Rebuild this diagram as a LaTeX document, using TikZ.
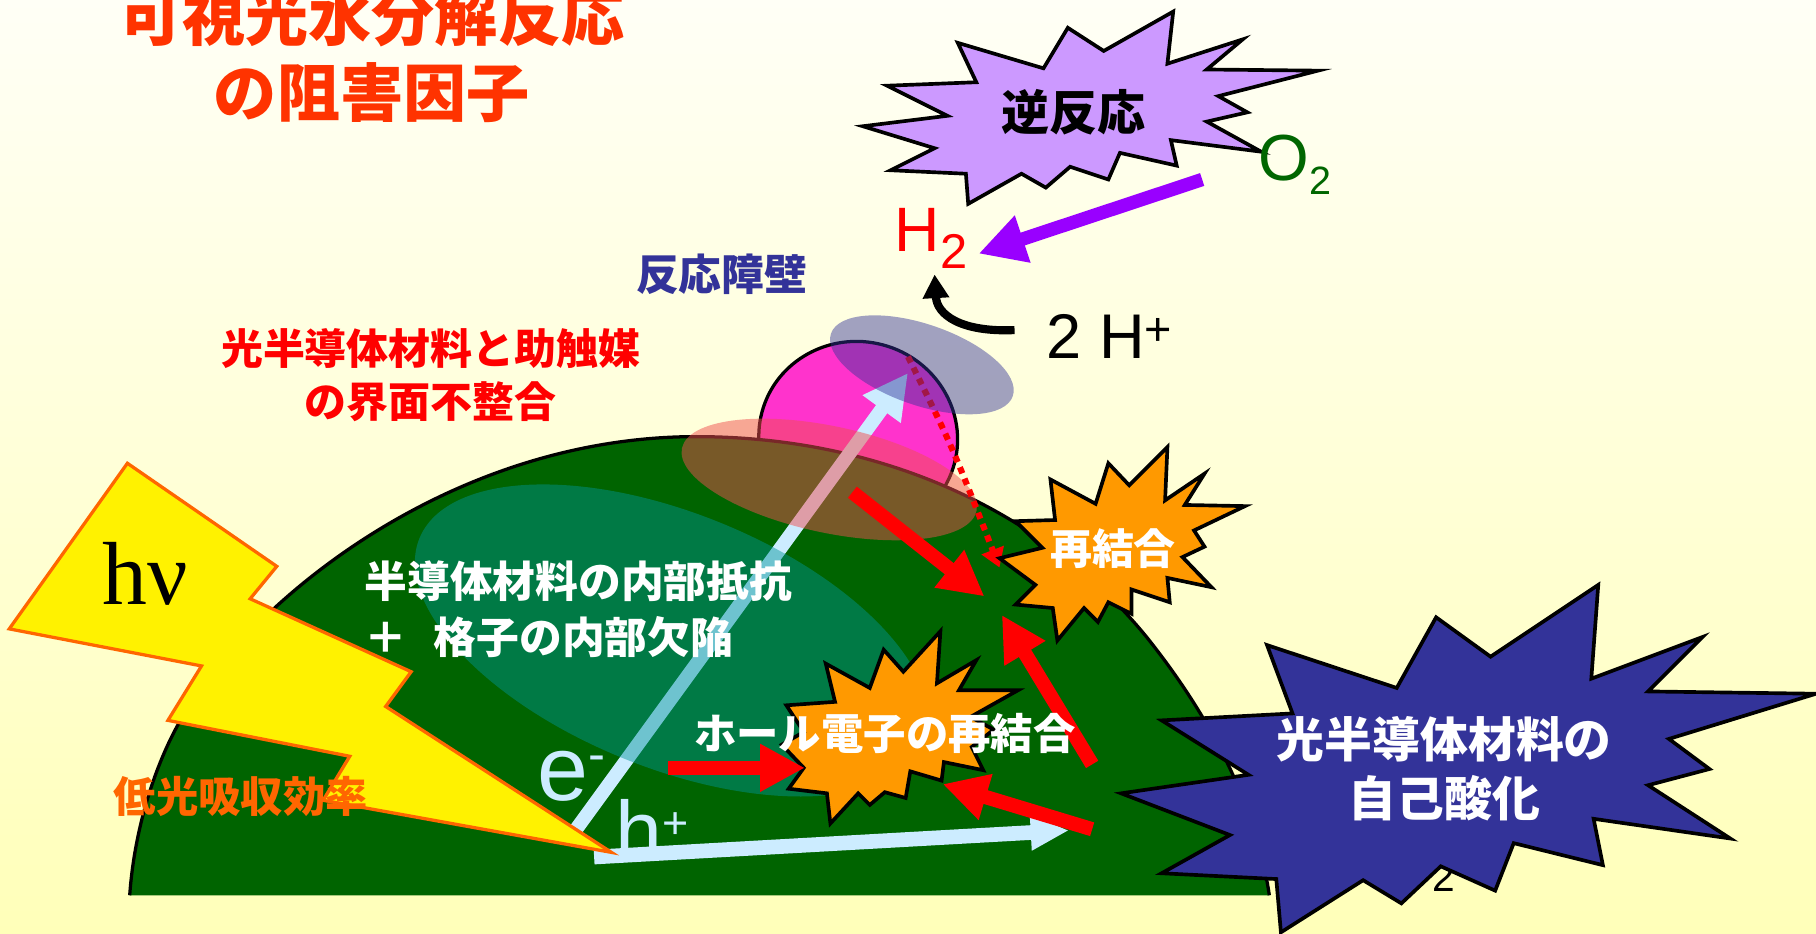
\documentclass[tikz,border=0pt]{standalone}
\usepackage{fontspec}
\setmainfont{Liberation Sans}
\newfontfamily\jpfont{Noto Sans CJK JP}
\newfontfamily\nufont{Liberation Serif}
\usetikzlibrary{arrows.meta}

\definecolor{bgtop}{RGB}{255,255,246}
\definecolor{bgbottom}{RGB}{255,255,185}
\definecolor{titlered}{RGB}{255,51,0}
\definecolor{dome}{RGB}{0,100,0}
\definecolor{particle}{RGB}{255,51,204}
\definecolor{electron}{RGB}{204,236,255}
\definecolor{defect}{RGB}{0,148,152}
\definecolor{interface}{RGB}{240,80,80}
\definecolor{barrier}{RGB}{51,51,153}
\definecolor{burstorange}{RGB}{255,153,0}
\definecolor{lilac}{RGB}{204,153,255}
\definecolor{violet}{RGB}{153,0,255}
\definecolor{oxgreen}{RGB}{0,102,0}
\definecolor{lowabs}{RGB}{255,102,0}

\newcommand\jpsize[2]{\jpfont\bfseries\fontsize{#1}{#2}\selectfont}
\newcommand\lsize[1]{\fontsize{#1}{#1}\selectfont}

\begin{document}
\begin{tikzpicture}[x=0.01cm, y=-0.01cm,
	jp/.style={inner sep=0pt, align=center},
	burst/.style={draw=black, line width=0.9pt, line join=miter, fill=#1},
	fatarrow/.style={line width=3.5pt, -{Triangle[length=11pt,width=11pt]}},
	chem/.style={anchor=base west, inner sep=0pt}]
	\useasboundingbox (0,0) rectangle (1568,806);
	\shade[top color=bgtop, bottom color=bgbottom] (0,0) rectangle (1568,806);

	% co-catalyst particle, then the semiconductor dome over it
	\draw[fill=particle, line width=0.8pt, rotate around={-15:(741,378)}] (741,378) ellipse [x radius=86, y radius=83];
	\fill[dome] (112,773) .. controls (116,715) and (135,655) .. (160,615) .. controls (230,505) and (400,377) .. (601,377) .. controls (760,377) and (900,440) .. (990,550) .. controls (1050,625) and (1085,700) .. (1096,773) -- cycle;
	\draw[line width=0.8pt] (112,773) .. controls (116,715) and (135,655) .. (160,615) .. controls (230,505) and (400,377) .. (601,377) .. controls (760,377) and (900,440) .. (990,550) .. controls (1050,625) and (1085,700) .. (1096,773);

	\coordinate (eStart) at (496,718);
	\coordinate (eEnd) at (784,322);
	\coordinate (hStart) at (513,740);
	\coordinate (hEnd) at (923,717);
	\draw[electron, line width=3.4pt, -{Triangle[length=11pt,width=10.8pt]}] (eStart) -- (eEnd);
	\draw[electron, line width=3.6pt, -{Triangle[length=9.4pt,width=8.2pt]}] (hStart) -- (hEnd);

	% defects and interface regions
	\fill[defect, fill opacity=0.46, rotate around={-22:(580,553)}] (580,553) ellipse [x radius=235, y radius=110];
	\fill[interface, fill opacity=0.5, rotate around={-12:(716,414)}] (716,414) ellipse [x radius=130, y radius=46];

	\coordinate (dStart) at (784,308);
	\coordinate (dEnd) at (863,490);
	\draw[red, line width=1.5pt, dash pattern=on 1.6pt off 1.4pt, -{Triangle[length=4.6pt,width=5.6pt]}] (dStart) .. controls (822,385) .. (dEnd);
	\fill[barrier, fill opacity=0.46, rotate around={-19:(796,315)}] (796,315) ellipse [x radius=83, y radius=35];

	% light
	\draw[fill=yellow, draw=lowabs, line width=0.8pt] (110,400) -- (239,489) -- (216,517) -- (355,580) -- (333,610) -- (528,736) -- (279,691) -- (302,653) -- (145,622) -- (174,575) -- (8,543) -- cycle;

	% recombination bursts
	\draw[burst=burstorange] plot coordinates {(1008,386) (1006,432) (1040,409) (1023,436) (1075,437) (1031,458) (1040,472) (1021,481) (1046,507) (1008,499) (1010,520) (977,509) (977,530) (957,520) (948,537) (936,525) (913,553) (909,525) (877,522) (894,505) (863,482) (900,473) (877,450) (911,449) (907,414) (946,435) (957,400) (975,419)} -- cycle;
	\draw[burst=burstorange] plot coordinates {(812,545) (809,590) (843,570) (828,596) (879,596) (838,619) (858,630) (839,645) (849,665) (815,658) (813,674) (786,666) (782,689) (764,684) (751,695) (741,685) (717,711) (714,685) (681,681) (694,663) (675,643) (694,632) (679,609) (721,606) (713,573) (751,594) (763,561) (780,580)} -- cycle;

	\coordinate (r1Start) at (736,425);
	\coordinate (r1End) at (850,515);
	\coordinate (r2Start) at (943,660);
	\coordinate (r2End) at (865,531);
	\coordinate (r3Start) at (943,716);
	\coordinate (r3End) at (814,677);
	\coordinate (r4Start) at (577,663);
	\coordinate (r4End) at (695,663);
	\draw[red, fatarrow] (r1Start) -- (r1End);
	\draw[red, fatarrow] (r2Start) -- (r2End);
	\draw[red, fatarrow] (r3Start) -- (r3End);
	\draw[red, fatarrow] (r4Start) -- (r4End);

	% back reaction
	\draw[burst=lilac] plot coordinates {(745,109) (818,100) (766,74) (843,71) (827,37) (901,59) (922,24) (953,44) (1013,10) (1008,55) (1073,34) (1042,60) (1138,61) (1052,83) (1077,97) (1042,105) (1089,131) (1011,121) (1016,143) (967,132) (957,155) (924,144) (903,162) (882,150) (836,176) (834,150) (769,147) (807,128)} -- cycle;
	\coordinate (oStart) at (1038,155);
	\coordinate (hTwoEnd) at (845,219);
	\draw[violet, line width=3.3pt, -{Triangle[length=11.4pt,width=11.4pt]}] (oStart) -- (hTwoEnd);
	\coordinate (pStart) at (876,285);
	\coordinate (pEnd) at (807,237);
	\draw[line width=2pt, -{Triangle[length=5.8pt,width=6.2pt]}] (pStart) .. controls (830,287) and (809,272) .. (pEnd);

	\node[anchor=base, inner sep=0pt, font=\lsize{10}] (page) at (1247,770) {2};
	\draw[burst=barrier] plot coordinates {(1380,505) (1374,586) (1470,550) (1423,597) (1568,599) (1441,638) (1476,664) (1423,678) (1494,724) (1376,707) (1384,747) (1307,728) (1291,769) (1244,748) (1210,780) (1177,760) (1106,805) (1102,759) (1003,754) (1062,721) (968,685) (1078,669) (1003,622) (1116,616) (1094,557) (1206,594) (1240,533) (1287,567)} -- cycle;

	% labels
	\node[jp, text=titlered, font=\jpsize{15.5}{18.8}] (title) at (321,47) {可視光水分解反応\\の阻害因子};
	\node[jp, text=barrier, font=\jpsize{10.5}{12}] (barrierlbl) at (623,237) {反応障壁};
	\node[jp, text=red, font=\jpsize{10.3}{13.1}] (interfacelbl) at (372,324) {光半導体材料と助触媒\\の界面不整合};
	\node[jp, font=\jpsize{11.8}{13}] (backlbl) at (927,97) {逆反応};
	\node[jp, text=white, font=\jpsize{10.3}{12}] (recomblbl) at (961,474) {再結合};
	\node[jp, text=white, font=\jpsize{10.4}{12}] (holelbl) at (764,633) {ホール電子の再結合};
	\node[jp, text=white, align=left, anchor=west, font=\jpsize{10.5}{13.9}] (defectlbl) at (314,526) {半導体材料の内部抵抗\\＋\hspace{6.5pt}格子の内部欠陥};
	\node[jp, text=lowabs, font=\jpsize{10.4}{12}] (lowabslbl) at (208,688) {低光吸収効率};
	\node[jp, text=white, font=\jpsize{11.75}{14.5}] (oxidlbl) at (1247,664) {光半導体材料の\\自己酸化};

	\node[chem, font=\nufont\lsize{22}] (hnu) at (88,522) {hν};
	\node[chem, text=oxgreen, font=\lsize{16}] (otwo) at (1086,156) {O\raisebox{-3.4pt}{\lsize{9.7}2}};
	\node[chem, text=red, font=\lsize{15.4}] (htwo) at (772,217) {H\raisebox{-4.1pt}{\lsize{12}2}};
	\node[chem, font=\lsize{15.5}] (protons) at (903,309.5) {2 H\raisebox{3.2pt}{\lsize{11.5}+}};
	\node[chem, text=electron, font=\lsize{22.5}] (elec) at (463,691) {e\raisebox{7pt}{\lsize{12.5}-}};
	\node[chem, text=electron, font=\lsize{20.7}] (hole) at (531,743) {h\raisebox{5.5pt}{\lsize{11}+}};
\end{tikzpicture}
\end{document}
